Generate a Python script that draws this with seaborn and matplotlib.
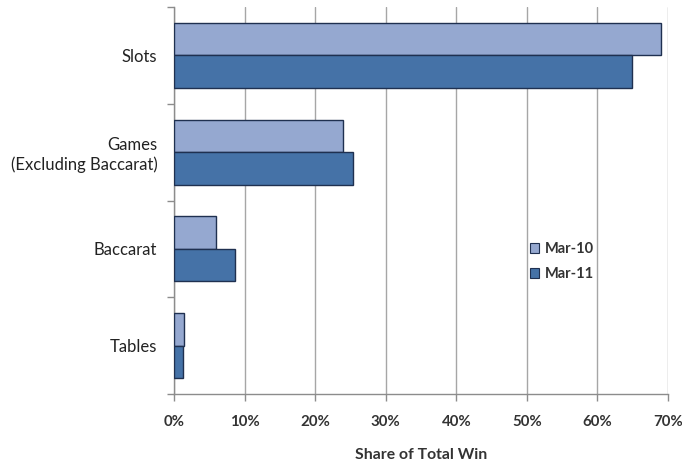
import matplotlib
matplotlib.use("Agg")
import matplotlib.pyplot as plt
import seaborn as sns
import pandas as pd
from matplotlib.ticker import FixedLocator, PercentFormatter
from matplotlib.patches import Patch

categories = ["Slots", "Games\n(Excluding Baccarat)", "Baccarat", "Tables"]
series_names = ["Mar-10", "Mar-11"]
mar10 = [69.0, 23.9, 5.9, 1.4]
mar11 = [64.9, 25.4, 8.7, 1.3]
xticks = [0, 10, 20, 30, 40, 50, 60, 70]

df = pd.DataFrame({
    "category": categories * 2,
    "period": [series_names[0]] * 4 + [series_names[1]] * 4,
    "share": mar10 + mar11,
})

sns.set_theme(style="white")
plt.rcParams['font.family'] = ['Lato', 'DejaVu Sans']

fig = plt.figure(figsize=(6.82, 4.62), dpi=100)
ax = fig.add_axes([174/682, 1 - 394/462, (668-174)/682, (394-7)/462])

palette = {"Mar-10": "#95A8D0", "Mar-11": "#4572A7"}
sns.barplot(data=df, y="category", x="share", hue="period", order=categories,
            hue_order=series_names, palette=palette, orient="h", width=0.67,
            edgecolor="#1F3050", linewidth=1.0, saturation=1, ax=ax, legend=False, zorder=3)

ax.set_xlim(0, 70)
ax.set_ylim(3.5, -0.5)
ax.set_xticks(xticks)
ax.xaxis.set_major_formatter(PercentFormatter(decimals=0))
ax.grid(axis="x", color="#A6A6A6", linewidth=1.0, zorder=0)
ax.grid(axis="y", visible=False)
ax.set_axisbelow(True)

for s in ["top", "right"]:
    ax.spines[s].set_visible(False)
for s in ["left", "bottom"]:
    ax.spines[s].set_color("#8C8C8C")
    ax.spines[s].set_linewidth(1.0)

ax.yaxis.set_minor_locator(FixedLocator([-0.5, 0.5, 1.5, 2.5, 3.5]))
ax.tick_params(axis="y", which="major", length=0, pad=12, labelsize=12, labelcolor="#222222")
ax.tick_params(axis="y", which="minor", length=5, color="#8C8C8C", width=1, left=True)
ax.tick_params(axis="x", which="major", length=5, color="#8C8C8C", width=1, bottom=True,
               direction="out", pad=10, labelsize=10.8, labelcolor="#333333")
for lbl in ax.get_xticklabels():
    lbl.set_fontweight("bold")
for lbl in ax.get_yticklabels():
    lbl.set_multialignment("right")

ax.set_ylabel("")
ax.set_xlabel("Share of Total Win", fontsize=11.3, fontweight="bold", color="#333333", labelpad=14)

handles = [Patch(facecolor=palette[n], edgecolor="#1F3050", linewidth=0.8) for n in series_names]
leg = ax.legend(handles, series_names, loc="center left", bbox_to_anchor=(0.72, 0.342),
                frameon=False, handlelength=0.65, handleheight=0.65, handletextpad=0.4,
                labelspacing=0.8, borderpad=0, borderaxespad=0,
                prop={"family": "Lato", "weight": "bold", "size": 10.5})
for t in leg.get_texts():
    t.set_color("#333333")

fig.savefig("out.png", dpi=100)
